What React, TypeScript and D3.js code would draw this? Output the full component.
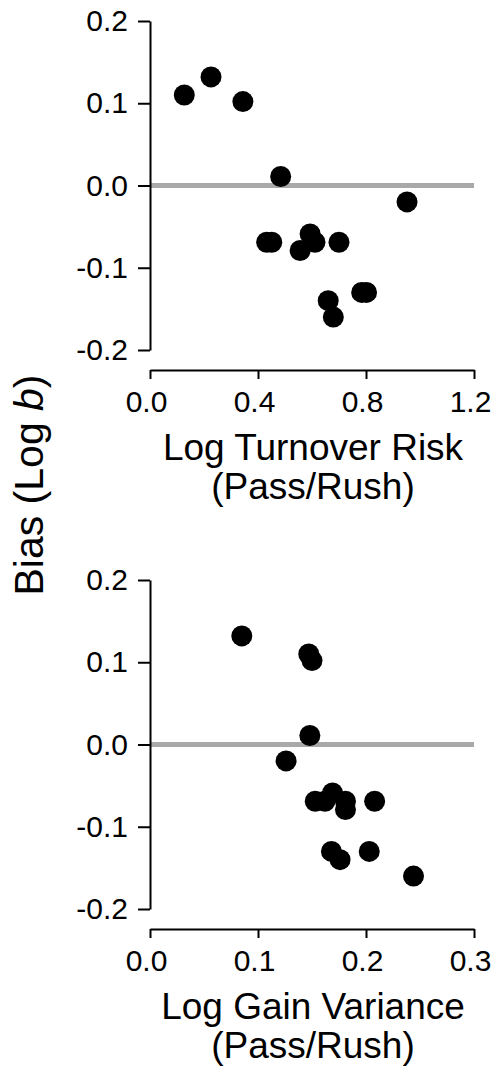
import React, { useEffect, useRef } from 'react';
import * as d3 from 'd3';

// bias per team (log b), shared by both panels
const bias = [0.132, 0.110, 0.102, 0.011, -0.020, -0.059, -0.069, -0.069, -0.069, -0.069, -0.079, -0.130, -0.130, -0.140, -0.160];
// top panel x values
const turnoverRisk = [0.226, 0.127, 0.344, 0.484, 0.952, 0.593, 0.432, 0.451, 0.611, 0.700, 0.556, 0.784, 0.802, 0.660, 0.679];
// bottom panel x values
const gainVariance = [0.085, 0.147, 0.150, 0.148, 0.126, 0.169, 0.153, 0.162, 0.181, 0.208, 0.181, 0.168, 0.203, 0.176, 0.244];

const yTicks = [-0.2, -0.1, 0.0, 0.1, 0.2];
const turnoverTicks = [0.0, 0.4, 0.8, 1.2];
const gainTicks = [0.0, 0.1, 0.2, 0.3];

const FONT = '"Liberation Sans", Arial, Helvetica, sans-serif';

function App() {
  const svgRef = useRef<SVGSVGElement>(null);

  useEffect(() => {
    const svg = d3.select(svgRef.current);
    svg.selectAll('*').remove();

    const left = 150;
    const right = 474;

    const panels = [
      { xs: turnoverRisk, ticks: turnoverTicks, max: 1.2, top: 21, title: ['Log Turnover Risk', '(Pass/Rush)'] },
      { xs: gainVariance, ticks: gainTicks, max: 0.3, top: 580, title: ['Log Gain Variance', '(Pass/Rush)'] }
    ];

    panels.forEach(p => {
      const bottom = p.top + 329;
      const axisY = bottom + 20;

      const x = d3.scaleLinear().domain([0, p.max]).range([left, right]);
      const y = d3.scaleLinear().domain([-0.2, 0.2]).range([bottom, p.top]);

      const g = svg.append('g');

      // zero reference line
      g.append('line')
        .attr('x1', x(0))
        .attr('x2', x(p.max))
        .attr('y1', y(0))
        .attr('y2', y(0))
        .attr('stroke', '#a9a9a9')
        .attr('stroke-width', 5);

      // y axis
      const yAxis = g.append('g')
        .attr('transform', `translate(${left},0)`)
        .call(d3.axisLeft(y).tickValues(yTicks).tickSize(12).tickSizeOuter(0).tickPadding(10)
          .tickFormat(d => (+d).toFixed(1)));
      yAxis.select('.domain').attr('stroke', '#000').attr('stroke-width', 2);
      yAxis.selectAll('.tick line').attr('stroke', '#000').attr('stroke-width', 2);
      yAxis.selectAll('.tick text')
        .attr('fill', '#000')
        .style('font-family', FONT)
        .style('font-size', '30px');

      // x axis
      const xAxis = g.append('g')
        .attr('transform', `translate(0,${axisY})`)
        .call(d3.axisBottom(x).tickValues(p.ticks).tickSize(9).tickSizeOuter(0).tickPadding(12)
          .tickFormat(d => (+d).toFixed(1)));
      xAxis.select('.domain').attr('stroke', '#000').attr('stroke-width', 2);
      xAxis.selectAll('.tick line').attr('stroke', '#000').attr('stroke-width', 2);
      xAxis.selectAll('.tick text')
        .attr('fill', '#000')
        .attr('dx', -4)
        .style('font-family', FONT)
        .style('font-size', '30px');

      // points
      g.append('g').selectAll('circle')
        .data(p.xs.map((v, i) => ({ x: v, y: bias[i] })))
        .enter().append('circle')
        .attr('cx', d => x(d.x))
        .attr('cy', d => y(d.y))
        .attr('r', 10.5)
        .attr('fill', '#000');

      // x title, two lines
      p.title.forEach((t, i) => {
        g.append('text')
          .attr('x', (left + right) / 2 + 1)
          .attr('y', axisY + 90 + i * 39)
          .attr('text-anchor', 'middle')
          .style('font-family', FONT)
          .style('font-size', '37px')
          .attr('fill', '#000')
          .text(t);
      });
    });

    // shared y title
    const yt = svg.append('text')
      .attr('transform', 'translate(29,485) rotate(-90)')
      .attr('text-anchor', 'middle')
      .attr('dominant-baseline', 'central')
      .style('font-family', FONT)
      .style('font-size', '41px')
      .attr('fill', '#000');
    yt.append('tspan').text('Bias (Log ');
    yt.append('tspan').style('font-style', 'italic').text('b');
    yt.append('tspan').text(')');
  }, []);

  return (
    <div style={{ position: 'absolute', left: 0, top: 0, background: '#fff' }}>
      <svg ref={svgRef} width={501} height={1071} style={{ display: 'block' }} />
    </div>
  );
}

export default App;
